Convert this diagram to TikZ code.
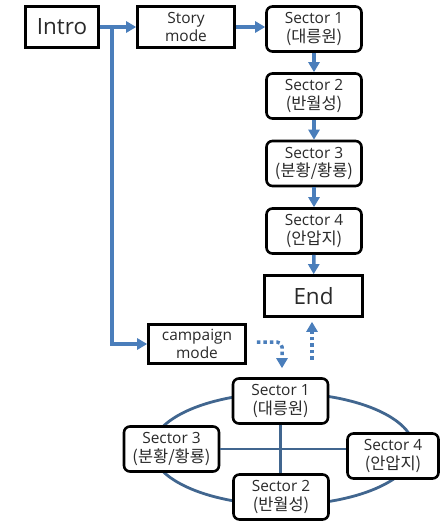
\documentclass[tikz,border=0pt]{standalone}
\usepackage{fontspec}
\setmainfont{Open Sans}
\newfontfamily\kr{Noto Sans CJK KR}
\usetikzlibrary{arrows.meta}

\definecolor{flow}{HTML}{4A7EBB}
\definecolor{ring}{HTML}{41668F}
\definecolor{ink}{HTML}{2A2A2A}

\newcommand\hangul[1]{{\kr\fontsize{16.5}{18}\selectfont #1}}

\begin{document}
\begin{tikzpicture}[x=1bp,y=-1bp,
  box/.style={draw=black, line width=2.6bp, inner sep=0pt, align=center,
    text=ink, fill=white, font=\fontsize{15.5}{18.5}\selectfont},
  bigbox/.style={box, font=\fontsize{22.5}{24}\selectfont},
  sectorbox/.style={box, rounded corners=6bp, minimum width=95bp, minimum height=45bp},
  flowarrow/.style={draw=flow, line width=3.5bp, -{Triangle[length=10bp,width=11bp]}},
  dotarrow/.style={draw=flow, line width=3.5bp, dash pattern=on 3.5bp off 3bp,
    rounded corners=5bp, -{Triangle[length=10bp,width=11bp]}},
  ringline/.style={draw=ring, line width=2.8bp},
]
\useasboundingbox (0,0) rectangle (447,522);

% campaign ring drawn first so the boxes sit on top of it
\coordinate (ringc) at (283,449);
\draw[ringline] (ringc) ellipse [x radius=131, y radius=56];

% story flow
\node[bigbox, minimum width=73bp, minimum height=41bp] (intro) at (62,27) {Intro};
\node[box, minimum width=97bp, minimum height=41bp] (story) at (186,27) {Story\\mode};
\node[sectorbox] (s1) at (314,29) {Sector 1\\\hangul{(대릉원)}};
\node[sectorbox] (s2) at (314,96) {Sector 2\\\hangul{(반월성)}};
\node[sectorbox] (s3) at (314,163.5) {Sector 3\\\hangul{(분황/황룡)}};
\node[sectorbox] (s4) at (314,231) {Sector 4\\\hangul{(안압지)}};
\node[bigbox, minimum width=98bp, minimum height=41bp] (end) at (313.5,296) {End};

% campaign flow
\node[box, minimum width=97bp, minimum height=39bp] (camp) at (197,344) {campaign\\mode};
\node[sectorbox] (b1) at (280.5,401) {Sector 1\\\hangul{(대릉원)}};
\node[sectorbox] (b3) at (171.5,449) {Sector 3\\\hangul{(분황/황룡)}};
\node[sectorbox, minimum width=91bp] (b4) at (393,456) {Sector 4\\\hangul{(안압지)}};
\node[sectorbox] (b2) at (281,497) {Sector 2\\\hangul{(반월성)}};

% cross links inside the ring
\draw[ringline] (b1.south) -- (b1.south |- b2.north);
\draw[ringline] (b3.east) -- (b3.east -| b4.west);

% solid arrows
\coordinate (branch) at (112,27);
\draw[flowarrow] (intro.east) -- (story.west);
\draw[flowarrow] (branch) |- (camp.west);
\draw[flowarrow] (story.east) -- (s1.west |- story.east);
\draw[flowarrow] (s1) -- (s2);
\draw[flowarrow] (s2) -- (s3);
\draw[flowarrow] (s3) -- (s4);
\draw[flowarrow] (s4) -- (end);

% dotted arrows between campaign mode, the ring and the end
\coordinate (dotA) at ([xshift=10bp,yshift=2bp]camp.east);
\coordinate (dotB) at ([xshift=1.5bp,yshift=9bp]b1.north);
\draw[dotarrow] (dotA) -| (dotB);
\coordinate (upA) at ([xshift=-1.5bp,yshift=-42bp]end.south);
\coordinate (upB) at ([xshift=-1.5bp,yshift=-4bp]end.south);
\draw[dotarrow] (upA) -- (upB);
\end{tikzpicture}
\end{document}
